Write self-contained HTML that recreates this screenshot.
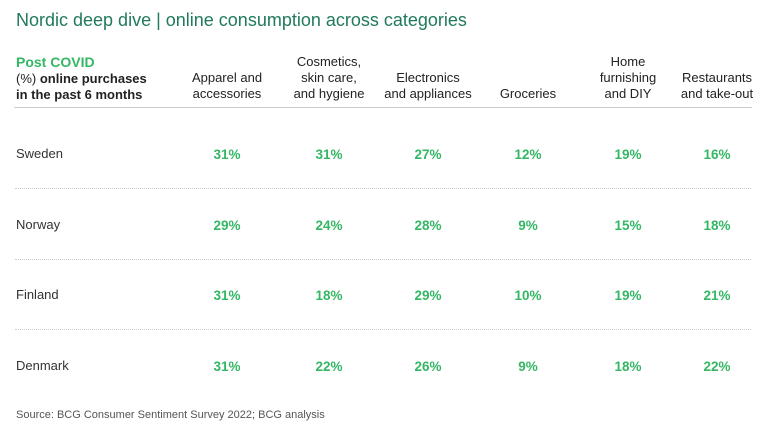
<!DOCTYPE html>
<html><head><meta charset="utf-8"><style>
body{margin:0;width:768px;height:432px;background:#fff;font-family:"Liberation Sans",sans-serif;position:relative;overflow:hidden}
.a{position:absolute}
.h{text-align:center;font-size:13px;line-height:16px;color:#222;width:110px}
.v{font-size:13.5px;font-weight:bold;color:#34b765;width:80px;text-align:center}
.c{font-size:13px;color:#333}
.sep{position:absolute;left:15px;width:736px;border-top:1px dotted #ccc;height:0}
</style></head><body>
<div class="a" style="left:16px;top:10px;font-size:18px;color:#207a5b">Nordic deep dive | online consumption across categories</div>
<div class="a" style="left:16px;top:54px;font-size:14px;font-weight:bold;color:#34b765">Post COVID</div>
<div class="a" style="left:16px;top:71px;font-size:13px;line-height:16px;color:#222">(%) <b>online purchases</b><br><b>in the past 6 months</b></div>
<div class="a" style="left:14px;top:107px;width:738px;height:1px;background:#ccc"></div>
<div class="a" style="left:16px;top:409px;font-size:11px;color:#555">Source: BCG Consumer Sentiment Survey 2022; BCG analysis</div>
<div id="t"></div>
<script>
const categories=["Apparel and<br>accessories","Cosmetics,<br>skin care,<br>and hygiene","Electronics<br>and appliances","Groceries","Home<br>furnishing<br>and DIY","Restaurants<br>and take-out"];
const countries=["Sweden","Norway","Finland","Denmark"];
const sweden=[31,31,27,12,19,16];
const norway=[29,24,28,9,15,18];
const finland=[31,18,29,10,19,21];
const denmark=[31,22,26,9,18,22];
const values=[sweden,norway,finland,denmark];
const colX=[227,329,428,528,628,717];
const t=document.getElementById('t');
categories.forEach((c,i)=>{
 const d=document.createElement('div');d.className='a h';
 
 
 d.innerHTML=c;
 const lines=c.split('<br>').length;
 d.style.left=(colX[i]-55)+'px';d.style.top=(102-lines*16)+'px';t.appendChild(d);
});
countries.forEach((n,r)=>{
 const y=154+r*70.5;
 const l=document.createElement('div');l.className='a c';
 
 
 l.textContent=n;l.style.left='16px';l.style.top=(y-8)+'px';t.appendChild(l);
 values[r].forEach((v,i)=>{
  const e=document.createElement('div');e.className='a v';
  
  
  e.textContent=v+'%';e.style.left=(colX[i]-40)+'px';e.style.top=(y-7)+'px';t.appendChild(e);
 });
 if(r<3){const s=document.createElement('div');s.className='sep';
 
 
 s.style.top=(y+34)+'px';t.appendChild(s);}
});
</script>
</body></html>
